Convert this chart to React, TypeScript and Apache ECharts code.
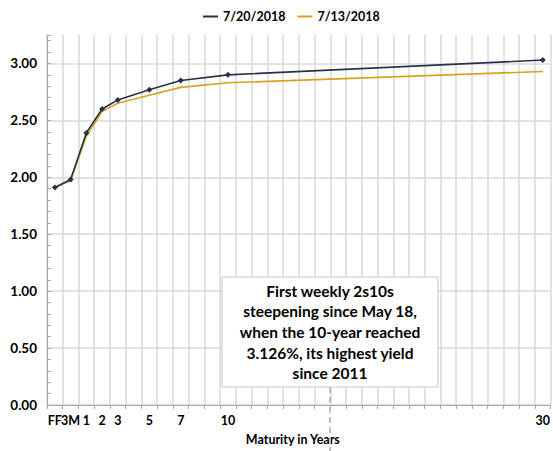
import React, { useEffect, useRef } from "react";
import * as echarts from "echarts";

const maturities = ["FF", "3M", "1", "2", "3", "5", "7", "10", "30"];
const yields0720 = [1.91, 1.98, 2.39, 2.6, 2.68, 2.77, 2.85, 2.9, 3.03];
const yields0713 = [1.91, 1.97, 2.36, 2.58, 2.65, 2.72, 2.79, 2.83, 2.93];
const seriesNames = ["7/20/2018", "7/13/2018"];
const yTicks = [0, 0.5, 1, 1.5, 2, 2.5, 3];
const annotationText = [
  "First weekly 2s10s",
  "steepening since May 18,",
  "when the 10-year reached",
  "3.126%, its highest yield",
  "since 2011",
];

const FONT = "Lato, 'Open Sans', sans-serif";
const DARK = "#26324a";
const GOLD = "#d9a21b";
const GRID = "#d9d9d9";

function slotOf(m: string): number {
  if (m === "FF") return 0;
  if (m === "3M") return 1;
  return Number(m) + 1;
}

export default function App() {
  const ref = useRef<HTMLDivElement>(null);
  useEffect(() => {
    document.body.style.margin = "0";
    if (!ref.current) return;
    const chart = echarts.init(ref.current, undefined, { renderer: "svg" });
    const nSlots = slotOf(maturities[maturities.length - 1]) + 1;
    const categories: string[] = new Array(nSlots).fill("");
    maturities.forEach((m) => (categories[slotOf(m)] = m));
    const build = (vals: number[]) => {
      const arr: (number | null)[] = new Array(nSlots).fill(null);
      maturities.forEach((m, i) => (arr[slotOf(m)] = vals[i]));
      return arr;
    };
    chart.setOption({
      animation: false,
      textStyle: { fontFamily: FONT },
      legend: {
        top: 5,
        left: 198,
        itemWidth: 15,
        itemHeight: 2,
        itemGap: 12,
        icon: "rect",
        textStyle: { fontFamily: FONT, fontWeight: "bold", fontSize: 12.5, color: "#000" },
        data: seriesNames,
      },
      grid: { left: 47, right: 1, top: 35, bottom: 44, containLabel: false },
      xAxis: {
        type: "category",
        data: categories,
        boundaryGap: true,
        name: "Maturity in Years",
        nameLocation: "middle",
        nameGap: 28,
        nameTextStyle: { fontFamily: FONT, fontWeight: "bold", fontSize: 12.5, color: "#000", padding: [0, 12, 0, 0] },
        axisLine: { lineStyle: { color: "#a6a6a6", width: 1 } },
        axisTick: { show: true, interval: 0, length: 4, lineStyle: { color: "#a6a6a6" } },
        axisLabel: { interval: 0, margin: 9, fontFamily: FONT, fontWeight: "bold", fontSize: 12.5, color: "#000" },
        splitLine: { show: true, interval: 0, lineStyle: { color: GRID, width: 1.5 } },
      },
      yAxis: {
        type: "value",
        min: 0,
        max: 3.25,
        interval: 0.5,
        axisLine: { show: true, lineStyle: { color: "#a6a6a6", width: 1 } },
        axisTick: { show: true, inside: true, length: 4, lineStyle: { color: "#a6a6a6" } },
        minorTick: { show: true, splitNumber: 5, length: 4, lineStyle: { color: "#a6a6a6" } },
        axisLabel: {
          margin: 10,
          showMaxLabel: false,
          fontFamily: FONT,
          fontWeight: "bold",
          fontSize: 13.5,
          color: "#000",
          formatter: (v: number) => (yTicks.includes(v) ? v.toFixed(2) : ""),
        },
        splitLine: { show: true, showMaxLine: false, lineStyle: { color: GRID, width: 1.5 } },
      },
      series: [
        {
          name: seriesNames[0],
          type: "line",
          data: build(yields0720),
          connectNulls: true,
          symbol: "diamond",
          symbolSize: 6,
          z: 3,
          lineStyle: { color: DARK, width: 1.6 },
          itemStyle: { color: DARK },
        },
        {
          name: seriesNames[1],
          type: "line",
          data: build(yields0713),
          connectNulls: true,
          showSymbol: false,
          symbol: "none",
          z: 2,
          lineStyle: { color: GOLD, width: 1.6 },
          itemStyle: { color: GOLD },
        },
      ],
      graphic: [
        {
          type: "line",
          shape: { x1: 330, y1: 387, x2: 330, y2: 451 },
          style: { stroke: "#bfbfbf", lineWidth: 2, lineDash: [6, 4] },
          z: 10,
        },
        {
          type: "rect",
          shape: { x: 222, y: 277, width: 216, height: 110 },
          style: { fill: "#fff", stroke: "#c8c8c8", lineWidth: 1 },
          z: 10,
        },
        {
          type: "text",
          x: 330,
          y: 332,
          z: 11,
          style: {
            text: annotationText.join("\n"),
            fontFamily: FONT,
            fontWeight: "bold",
            fontSize: 15.5,
            lineHeight: 20.7,
            fill: "#000",
            align: "center",
            verticalAlign: "middle",
          },
        },
      ],
    });
    return () => chart.dispose();
  }, []);
  return <div ref={ref} style={{ width: 553, height: 451 }} />;
}
